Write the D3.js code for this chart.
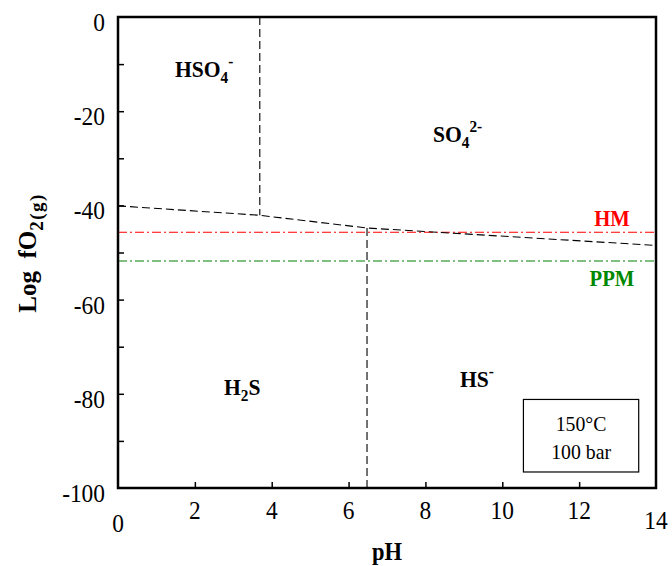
<!DOCTYPE html>
<html><head><meta charset="utf-8">
<script src="https://cdn.jsdelivr.net/npm/d3@7"></script>
<style>body{margin:0;background:#fff}text{font-family:"Liberation Serif","Times New Roman",serif}</style>
</head><body><svg id="c" width="672" height="566"></svg>
<script>
const xTicks=[0,2,4,6,8,10,12,14];
const yTicks=[0,-20,-40,-60,-80,-100];
const yMinor=[-10,-30,-50,-70,-90];
// boundary lines (pH, log fO2)
const slopedLine=[[0,-40.1],[3.69,-42.1],[6.48,-44.8],[14,-48.5]];
const hso4Boundary=[[3.69,0],[3.69,-42.1]];
const h2sBoundary=[[6.48,-44.8],[6.48,-100]];
const hmLevel=-45.7, ppmLevel=-51.8;

const svg=d3.select("#c");
const L=118,R=656,T=17,B=488;
const SX=0.9;
const x=d3.scaleLinear().domain([0,14]).range([L,R]);
const y=d3.scaleLinear().domain([-100,0]).range([B,T]);
const line=d3.line().x(d=>x(d[0])).y(d=>y(d[1]));

function txt(px,py,anchor,size){
 return svg.append("g").attr("transform",`translate(${px},${py}) scale(${SX},1)`)
  .append("text").attr("text-anchor",anchor).attr("font-size",size);
}

// reference lines
svg.append("line").attr("x1",x(0)).attr("x2",x(14)).attr("y1",y(hmLevel)).attr("y2",y(hmLevel))
 .attr("stroke","#ff0000").attr("stroke-width",1.1).attr("stroke-dasharray","9,3,2,3");
svg.append("line").attr("x1",x(0)).attr("x2",x(14)).attr("y1",y(ppmLevel)).attr("y2",y(ppmLevel))
 .attr("stroke","#008000").attr("stroke-width",1.1).attr("stroke-dasharray","9,3,2,3");

[slopedLine,hso4Boundary,h2sBoundary].forEach(p=>{
 svg.append("path").attr("d",line(p)).attr("fill","none").attr("stroke","#000").attr("stroke-width",1.1).attr("stroke-dasharray","8,4");
});

// axes
const xa=svg.append("g").attr("transform",`translate(0,${B})`)
 .call(d3.axisBottom(x).tickValues(xTicks.slice(1,-1)).tickSize(-6).tickFormat(""));
xa.select(".domain").remove();
xa.selectAll("line").attr("stroke-width",1.5);
const ya=svg.append("g").attr("transform",`translate(${L},0)`)
 .call(d3.axisLeft(y).tickValues(yTicks.slice(1,-1).concat(yMinor)).tickSize(-6).tickFormat(""));
ya.select(".domain").remove();
ya.selectAll("line").attr("stroke-width",1.5);

svg.append("rect").attr("x",L).attr("y",T).attr("width",R-L).attr("height",B-T)
 .attr("fill","none").attr("stroke","#000").attr("stroke-width",2.5);

// tick labels
xTicks.forEach(d=>{
 txt(x(d),d===0?532:(d===14?529:519),"middle",26).text(d);
});
yTicks.forEach(d=>{
 txt(L-13,y(d)+14,"end",26).text(d);
});

// axis titles
txt((L+R)/2,560,"middle",25).attr("font-weight","bold").text("pH");
const yt=svg.append("text").attr("transform",`translate(36,${253}) rotate(-90)`).attr("text-anchor","middle")
 .attr("font-size",25).attr("font-weight","bold");
yt.append("tspan").text("Log\u00a0\u00a0fO");
yt.append("tspan").attr("font-size",19).attr("dy",7).attr("letter-spacing",1.5).text("2(g)");

// species labels
function species(px,py,parts,color,size){
 const t=txt(px,py,"start",size||24).attr("font-weight","bold").attr("fill",color||"#000");
 parts.forEach(p=>{const s=t.append("tspan").text(p[0]);
  if(p[1]==="sub"){s.attr("font-size",17).attr("dy",6);}
  else if(p[1]==="sup"){s.attr("font-size",17).attr("dy",-10);}
  else if(p[1]==="supsub"){s.attr("font-size",17).attr("dy",-16);}
  else if(p[1]==="back"){s.attr("dy",-6);} });
 return t;
}
species(175,77,[["HSO"],["4","sub"],["-","supsub"]]);
species(433,142,[["SO"],["4","sub"],["2-","supsub"]]);
species(224,395,[["H"],["2","sub"],["S","back"]]);
species(460,387,[["HS"],["-","sup"]]);
species(612,226,[["HM"]],"#ff0000",23).attr("text-anchor","middle");
species(612,286,[["PPM"]],"#008800",23).attr("text-anchor","middle");

// condition box
svg.append("rect").attr("x",x(10.55)).attr("y",y(-81.2)).attr("width",x(13.55)-x(10.55)).attr("height",y(-96.6)-y(-81.2))
 .attr("fill","#fff").attr("stroke","#000").attr("stroke-width",1.2);
txt(x(12.05),y(-87.8),"middle",22).text("150°C");
txt(x(12.05),y(-93.8),"middle",22).text("100 bar");
</script></body></html>
